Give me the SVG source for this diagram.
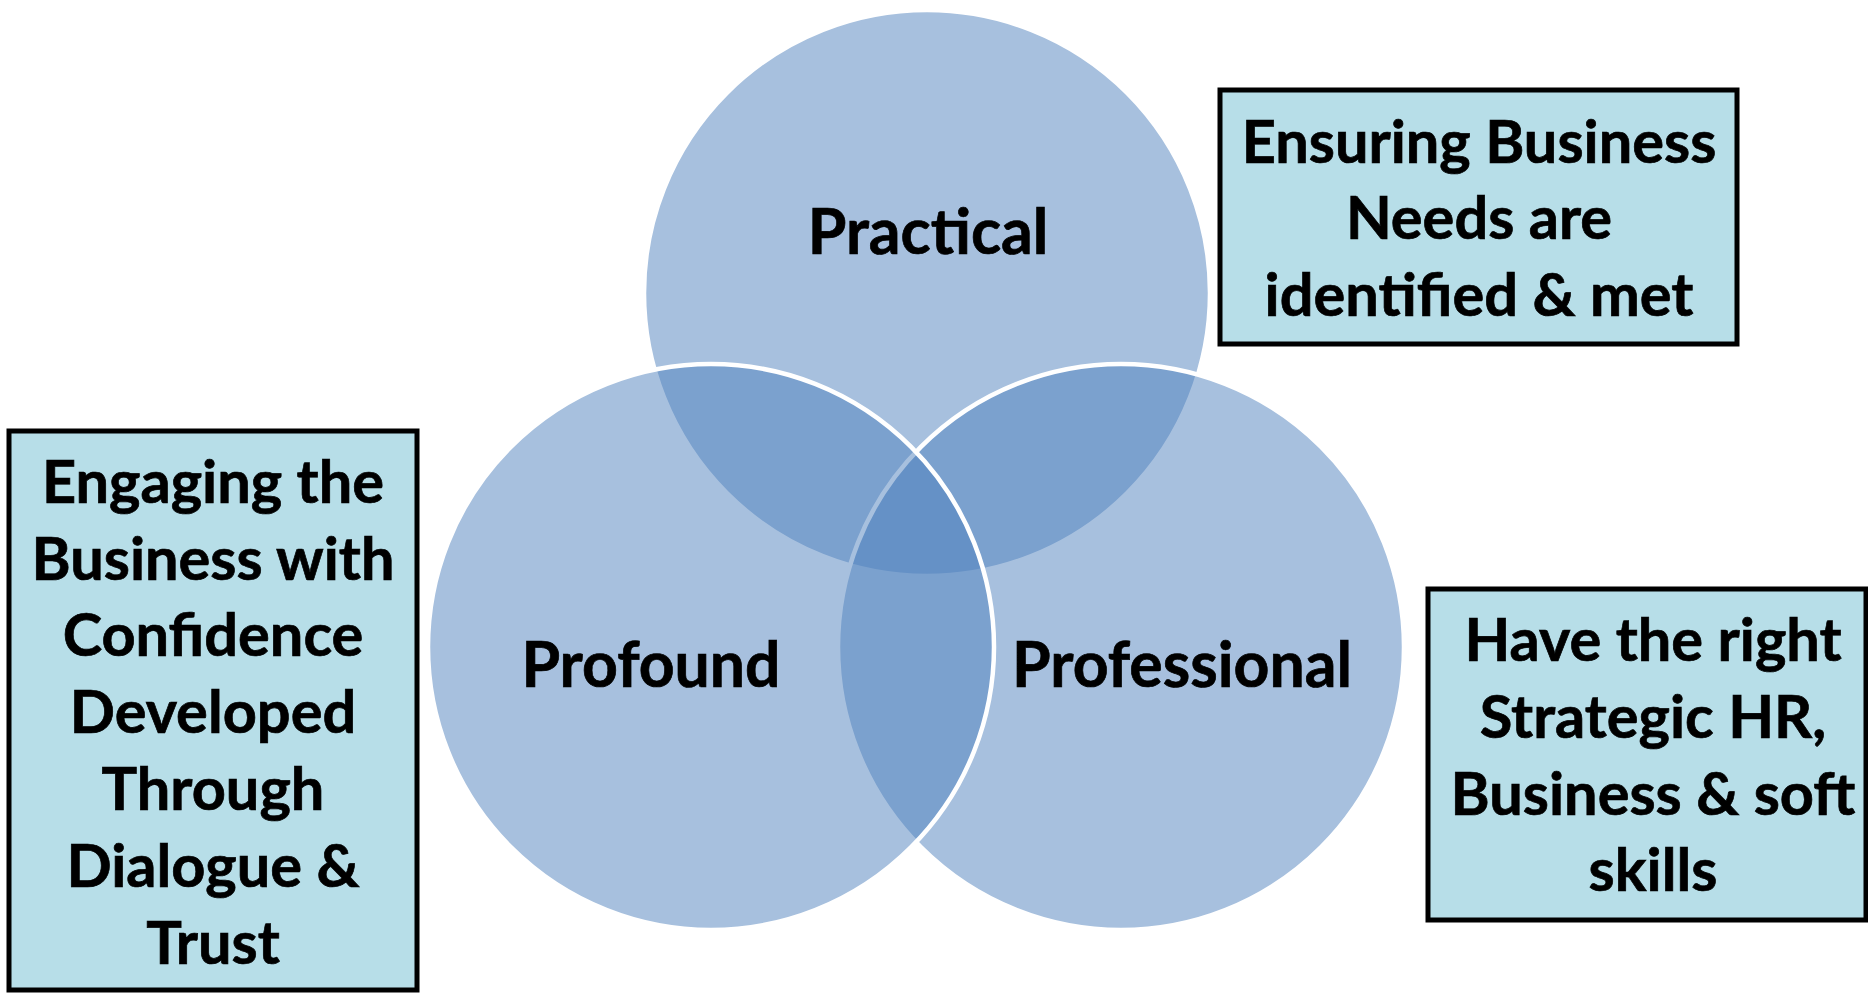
<svg xmlns="http://www.w3.org/2000/svg" width="1868" height="993" viewBox="0 0 1868 993">
  <style>
    .ring { fill: #4F81BD; fill-opacity: 0.5; stroke: #FFFFFF; stroke-width: 4.5; }
    .note { fill: #B7DEE8; stroke: #000000; stroke-width: 5; }
    .lbl { font-family: Lato, "Open Sans", "Liberation Sans", sans-serif; font-weight: 700; font-size: 59.5px; fill: #000000; stroke: #000000; stroke-width: 0.7; text-anchor: middle; }
    .big { font-size: 62.5px; }
  </style>
  <rect width="1868" height="993" fill="#FFFFFF"/>

  <!-- Venn circles: painted top, right, left so the left ring's outline stays on top -->
  <g id="practical">
    <circle class="ring" cx="927" cy="293" r="283"/>
    <text class="lbl big" x="928" y="254">Practical</text>
  </g>
  <g id="professional">
    <circle class="ring" cx="1121" cy="647" r="283"/>
  </g>
  <g id="profound">
    <circle class="ring" cx="711" cy="647" r="283"/>
  </g>
  <text class="lbl big" x="651" y="687">Profound</text>
  <text class="lbl big" x="1182" y="687">Professional</text>

  <!-- Callout boxes -->
  <g id="needs-box">
    <rect class="note" x="1220" y="90" width="517" height="254"/>
    <text class="lbl" x="1479" y="163">Ensuring Business</text>
    <text class="lbl" x="1479" y="239">Needs are</text>
    <text class="lbl" x="1479" y="316">identified &amp; met</text>
  </g>
  <g id="skills-box">
    <rect class="note" x="1428" y="589" width="438" height="331"/>
    <text class="lbl" x="1653" y="661">Have the right</text>
    <text class="lbl" x="1653" y="738">Strategic HR,</text>
    <text class="lbl" x="1653" y="815">Business &amp; soft</text>
    <text class="lbl" x="1653" y="891">skills</text>
  </g>
  <g id="trust-box">
    <rect class="note" x="9" y="431" width="408" height="559"/>
    <text class="lbl" x="213" y="503">Engaging the</text>
    <text class="lbl" x="213" y="580">Business with</text>
    <text class="lbl" x="213" y="656">Confidence</text>
    <text class="lbl" x="213" y="733">Developed</text>
    <text class="lbl" x="213" y="810">Through</text>
    <text class="lbl" x="213" y="887">Dialogue &amp;</text>
    <text class="lbl" x="213" y="964">Trust</text>
  </g>
</svg>
